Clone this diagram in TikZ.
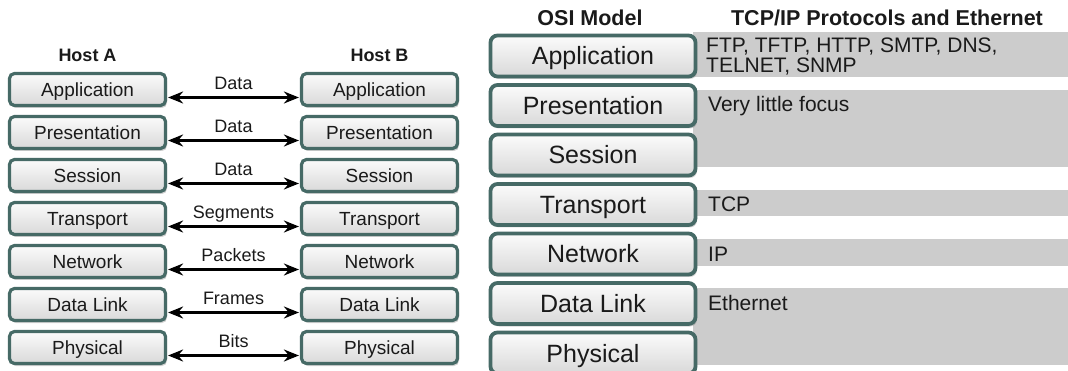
\documentclass[tikz,border=0pt]{standalone}
\usepackage{fontspec}
\setmainfont{Liberation Sans}
\usetikzlibrary{arrows.meta,shadows}
\definecolor{boxborder}{HTML}{466A66}
\definecolor{bandgray}{HTML}{CCCCCC}
\definecolor{txt}{HTML}{1A1A1A}
\begin{document}
\begin{tikzpicture}[x=1pt,y=-1pt,
  layerbox/.style={draw=boxborder, line width=3.2pt, rounded corners=5pt,
    top color=gray!3, bottom color=gray!30, text=txt,
    minimum width=156pt, minimum height=32pt, inner sep=0pt,
    text height=13.6pt, text depth=0pt,
    font=\fontsize{19}{21}\selectfont,
    drop shadow={shadow xshift=1.5pt,shadow yshift=-2.5pt,opacity=0.35}},
  osibox/.style={layerbox, line width=3.8pt, rounded corners=7pt,
    minimum width=205pt, minimum height=41pt,
    text height=18pt, font=\fontsize{25}{28}\selectfont},
  hdr/.style={font=\fontsize{18}{20}\selectfont\bfseries, inner sep=0pt, anchor=base, text=txt},
  hdrR/.style={font=\fontsize{21.5}{24}\selectfont\bfseries, inner sep=0pt, anchor=base, text=txt},
  conn/.style={{Stealth[length=15pt,width=12pt,inset=5pt]}-{Stealth[length=15pt,width=12pt,inset=5pt]}, line width=2.3pt, shorten <=1pt, shorten >=1pt},
  lbl/.style={font=\fontsize{18}{20}\selectfont, inner sep=0pt, anchor=base, text=txt},
  proto/.style={font=\fontsize{21}{20}\selectfont, inner sep=0pt, anchor=base west, align=left, text=txt},
  band/.style={fill=bandgray}
]
\useasboundingbox (0,0) rectangle (1068,371);

% headers
\node[hdr] (hA) at (87.5,62) {Host A};
\node[hdr] (hB) at (379.5,62) {Host B};
\node[hdrR] (hOSI) at (590,25.5) {OSI Model};
\node[hdrR] (hTCP) at (887,26) {TCP/IP Protocols and Ethernet};

% Host A / Host B stacks
\foreach \i/\t/\y in {1/Application/89.5, 2/Presentation/132.5, 3/Session/175.5,
                      4/Transport/218.5, 5/Network/261.5, 6/Data Link/304.5, 7/Physical/347.5} {
  \node[layerbox] (a\i) at (87.5,\y) {\t};
  \node[layerbox] (b\i) at (379.5,\y) {\t};
}

% connectors
\foreach \i/\l in {1/Data, 2/Data, 3/Data, 4/Segments, 5/Packets, 6/Frames, 7/Bits} {
  \draw[conn] ([yshift=-8pt]a\i.east) -- ([yshift=-8pt]b\i.west)
     node[lbl, midway, yshift=8pt] (l\i) {\l};
}

% gray bands
\fill[band] (693,32) rectangle (1068,77);
\fill[band] (693,90) rectangle (1068,167);
\fill[band] (693,190) rectangle (1068,216);
\fill[band] (693,239) rectangle (1068,266);
\fill[band] (693,288) rectangle (1068,365);

% OSI stack
\foreach \i/\t in {1/Application, 2/Presentation, 3/Session, 4/Transport, 5/Network, 6/Data Link, 7/Physical} {
  \node[osibox] (o\i) at (593,{56+49.5*(\i-1)}) {\t};
}

% protocol texts
\node[proto] (p1) at (706,53) {FTP, TFTP, HTTP, SMTP, DNS,};
\node[proto] (p1b) at (706,73) {TELNET, SNMP};
\node[proto] (p2) at (708,112) {Very little focus};
\node[proto] (p4) at (708,212) {TCP};
\node[proto] (p5) at (708,262) {IP};
\node[proto] (p6) at (708,311) {Ethernet};
\end{tikzpicture}
\end{document}
